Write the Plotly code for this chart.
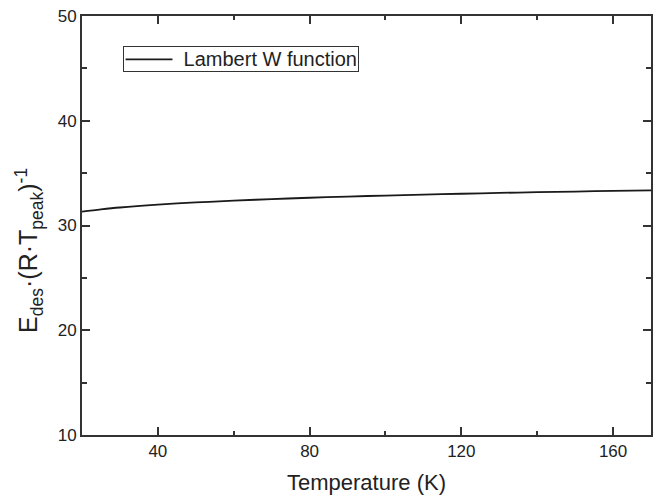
import plotly.graph_objects as go

temperature_K = [20, 25, 30, 40, 50, 60, 70, 80, 90, 100, 110, 120, 130, 140, 150, 160, 170]
lambert_w = [31.33, 31.54, 31.72, 31.99, 32.20, 32.37, 32.52, 32.65, 32.76, 32.86,
             32.95, 33.03, 33.11, 33.18, 33.24, 33.31, 33.36]

series_name = "Lambert W function"
x_title = "Temperature (K)"
y_title = "E<sub>des</sub>·(R·T<sub>peak</sub>)<sup>-1</sup>"

FONT = "Liberation Sans, Arial, sans-serif"
INK = "#222222"
AX = "#333333"

fig = go.Figure()
fig.add_trace(go.Scatter(x=temperature_K, y=lambert_w, mode="lines", name=series_name,
                         showlegend=False,
                         line=dict(color="#1a1a1a", width=1.8, shape="spline")))

axis_common = dict(
    showline=True, linecolor=AX, linewidth=2, mirror="ticks",
    ticks="inside", ticklen=8, tickwidth=1.5, tickcolor=AX,
    showgrid=False, zeroline=False,
    tickfont=dict(family=FONT, size=17, color=INK),
    layer="above traces",
)

px_l, px_r, px_t, px_b = 82.3, 652.7, 16.0, 436.7
def xp(px):
    return (px - px_l) / (px_r - px_l)
def yp(py):
    return (px_b - py) / (px_b - px_t)

# legend: bordered label with a line sample
fig.add_annotation(xref="paper", yref="paper", x=xp(123.3), y=yp(46.5),
                   xanchor="left", yanchor="top", showarrow=False,
                   text=series_name, width=232, height=22, align="right", valign="middle",
                   borderpad=1, bordercolor=AX, borderwidth=1, bgcolor="rgba(0,0,0,0)",
                   font=dict(family=FONT, size=20, color=INK))
fig.add_shape(type="line", xref="paper", yref="paper", layer="above",
              x0=xp(126), x1=xp(173), y0=yp(59.5), y1=yp(59.5),
              line=dict(color="#1a1a1a", width=1.8))

# y-axis title
fig.add_annotation(xref="paper", yref="paper", x=xp(29), y=yp(251),
                   xanchor="center", yanchor="middle", showarrow=False, textangle=-90,
                   text=y_title, font=dict(family=FONT, size=25, color=INK))

fig.update_layout(
    width=660, height=498,
    margin=dict(l=82, r=7, t=16, b=61),
    paper_bgcolor="white", plot_bgcolor="white",
    showlegend=False,
    xaxis=dict(range=[20, 170], tick0=0, dtick=40,
               title=dict(text=x_title, standoff=14, font=dict(family=FONT, size=22, color=INK)),
               minor=dict(ticks="inside", ticklen=4, dtick=20, tickcolor=AX, tickwidth=1.5),
               **axis_common),
    yaxis=dict(range=[10, 50], tick0=0, dtick=10,
               minor=dict(ticks="inside", ticklen=5, dtick=5, tickcolor=AX, tickwidth=1.5),
               **axis_common),
)

fig.write_html("out.html")
